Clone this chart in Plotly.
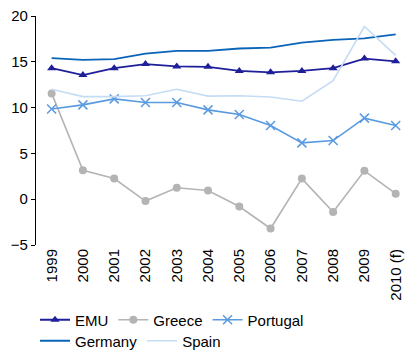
import plotly.graph_objects as go

years = ["1999", "2000", "2001", "2002", "2003", "2004", "2005", "2006",
         "2007", "2008", "2009", "2010 (f)"]
emu = [14.3, 13.55, 14.3, 14.75, 14.5, 14.45, 14.0, 13.85, 14.0, 14.3, 15.35, 15.05]
greece = [11.55, 3.15, 2.25, -0.2, 1.25, 0.95, -0.8, -3.2, 2.25, -1.4, 3.1, 0.6]
portugal = [9.85, 10.3, 10.95, 10.55, 10.55, 9.75, 9.25, 8.05, 6.15, 6.4, 8.85, 8.05]
germany = [15.4, 15.2, 15.3, 15.9, 16.2, 16.2, 16.45, 16.55, 17.1, 17.4, 17.55, 18.0]
spain = [12.0, 11.2, 11.2, 11.3, 12.0, 11.25, 11.3, 11.15, 10.7, 12.95, 18.85, 15.7]

FONT = "Liberation Sans, Arial, sans-serif"

fig = go.Figure()
fig.add_trace(go.Scatter(x=years, y=emu, name="EMU", mode="lines+markers",
                         line=dict(color="#1f1f9a", width=1.8),
                         marker=dict(symbol="triangle-up", size=8, color="#1f1f9a"),
                         legend="legend"))
fig.add_trace(go.Scatter(x=years, y=greece, name="Greece", mode="lines+markers",
                         line=dict(color="#b4b4b4", width=1.6),
                         marker=dict(symbol="circle", size=8, color="#b4b4b4"),
                         legend="legend"))
fig.add_trace(go.Scatter(x=years, y=portugal, name="Portugal", mode="lines+markers",
                         line=dict(color="#5a9ae0", width=1.6),
                         marker=dict(symbol="x-thin-open", size=9,
                                     line=dict(color="#5a9ae0", width=1.5)),
                         legend="legend"))
fig.add_trace(go.Scatter(x=years, y=germany, name="Germany", mode="lines",
                         line=dict(color="#0a64b8", width=1.8),
                         legend="legend2"))
fig.add_trace(go.Scatter(x=years, y=spain, name="Spain", mode="lines",
                         line=dict(color="#c4dcf4", width=1.6),
                         legend="legend2"))

legend_style = dict(orientation="h", xref="container", yref="container",
                    xanchor="left", yanchor="middle", bgcolor="rgba(0,0,0,0)",
                    font=dict(family=FONT, size=15, color="black"),
                    itemwidth=30, tracegroupgap=0)

fig.update_layout(
    width=406, height=352,
    margin=dict(l=36, r=0, t=16, b=107),
    paper_bgcolor="white", plot_bgcolor="white",
    font=dict(family=FONT, size=15, color="black"),
    legend=dict(x=35 / 406, y=1 - 320 / 352, **legend_style),
    legend2=dict(x=35 / 406, y=1 - 341 / 352, **legend_style),
    xaxis=dict(type="category", range=[-0.5, 11.33], showline=False,
               ticks="", tickangle=-90, showgrid=False, zeroline=False,
               tickfont=dict(family=FONT, size=15, color="black")),
    xaxis2=dict(overlaying="x", anchor="free", position=0.2,
                range=[-0.5, 11.33], tickvals=[i - 0.5 for i in range(13)],
                ticks="outside", ticklen=4, tickcolor="black",
                showline=True, linecolor="black", linewidth=1.2,
                showticklabels=False, showgrid=False, zeroline=False),
    yaxis=dict(range=[-5, 20], dtick=5, ticks="outside", ticklen=4,
               tickcolor="black", showline=True, linecolor="black",
               linewidth=1.2, showgrid=False, zeroline=False,
               tickfont=dict(family=FONT, size=15, color="black")),
)

fig.write_html("out.html")
